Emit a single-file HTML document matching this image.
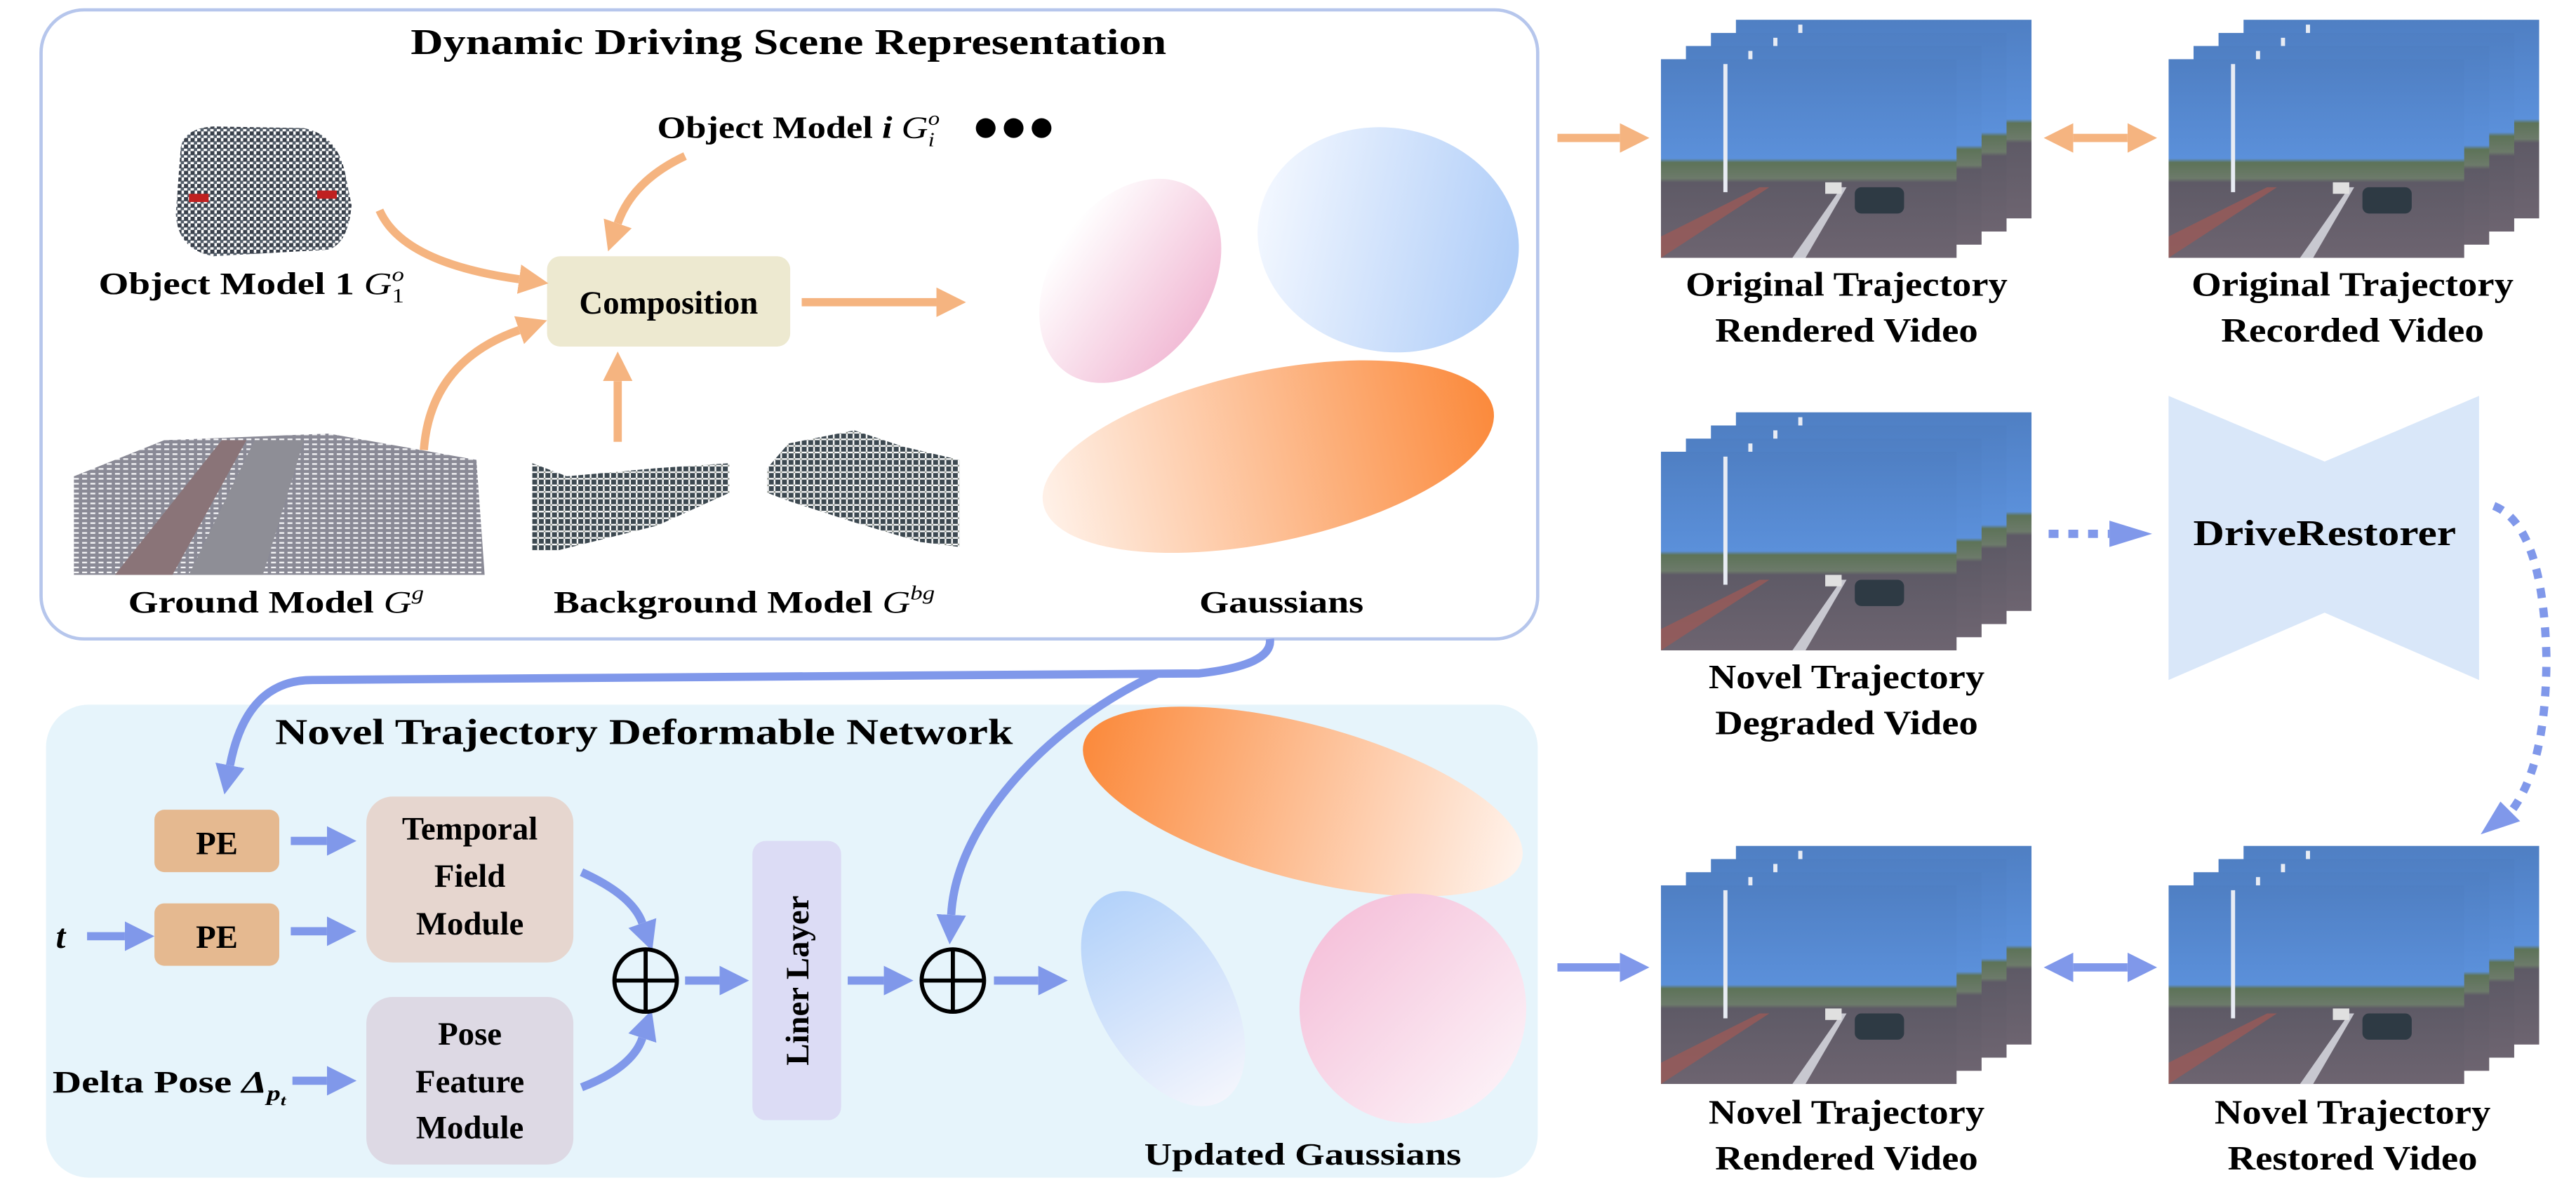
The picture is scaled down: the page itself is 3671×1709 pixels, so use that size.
<!DOCTYPE html>
<html><head><meta charset="utf-8"><style>
html,body{margin:0;padding:0;background:#fff;}
svg{display:block;}
text{font-family:"Liberation Serif",serif;font-weight:bold;fill:#000;}
</style></head><body>
<svg width="3671" height="1709" viewBox="0 0 1568 730" preserveAspectRatio="none" xmlns="http://www.w3.org/2000/svg">
<defs>
<marker id="ho" markerUnits="userSpaceOnUse" markerWidth="18" markerHeight="18" viewBox="0 0 16 16" refX="0" refY="8" orient="auto-start-reverse"><path d="M0,0 L16,8 L0,16 z" fill="#f5b480"/></marker>
<marker id="hb" markerUnits="userSpaceOnUse" markerWidth="18" markerHeight="18" viewBox="0 0 16 16" refX="0" refY="8" orient="auto-start-reverse"><path d="M0,0 L16,8 L0,16 z" fill="#8098ea"/></marker>
<linearGradient id="gPink" x1="0" y1="0" x2="1" y2="0"><stop offset="0" stop-color="#fff"/><stop offset="1" stop-color="#f2bcd6"/></linearGradient>
<linearGradient id="gBlue" x1="0" y1="0" x2="1" y2="0"><stop offset="0" stop-color="#f2f7ff"/><stop offset="1" stop-color="#afcdf8"/></linearGradient>
<linearGradient id="gOr" x1="0" y1="0" x2="1" y2="0"><stop offset="0" stop-color="#fff1e8"/><stop offset="1" stop-color="#fb8a3c"/></linearGradient>
<linearGradient id="gOr2" x1="0" y1="0" x2="1" y2="0"><stop offset="0" stop-color="#fb8a3c"/><stop offset="1" stop-color="#fff3ec"/></linearGradient>
<linearGradient id="gBlue2" x1="0" y1="0" x2="0" y2="1"><stop offset="0" stop-color="#b3d2fa"/><stop offset="1" stop-color="#f3f5fc"/></linearGradient>
<linearGradient id="gPink2" x1="0" y1="0" x2="1" y2="1"><stop offset="0" stop-color="#f4bad6"/><stop offset="1" stop-color="#fdf8fb"/></linearGradient>
<linearGradient id="sky" x1="0" y1="0" x2="0" y2="1"><stop offset="0" stop-color="#4f7fc3"/><stop offset="0.5" stop-color="#5b90da"/><stop offset="0.52" stop-color="#5d7358"/><stop offset="0.6" stop-color="#6c7a6a"/><stop offset="0.62" stop-color="#5e5a66"/><stop offset="1" stop-color="#6d6470"/></linearGradient>
<symbol id="photo" viewBox="0 0 180 121">
<rect width="180" height="121" fill="url(#sky)"/>
<path d="M0,108 L60,78 L66,78 L0,121 z" fill="#9a5a58" opacity="0.8"/>
<path d="M80,121 L110,78 L113,78 L88,121 z" fill="#c8c8d0"/>
<rect x="38" y="3" width="2.5" height="78" fill="#e8ecf4"/>
<rect x="118" y="78" width="30" height="16" rx="4" fill="#2e3a44"/>
<rect x="100" y="75" width="10" height="7" fill="#e0e0e0"/>
</symbol>
<pattern id="dots" width="4" height="4" patternUnits="userSpaceOnUse"><rect width="2.5" height="2.5" fill="#2e3540"/><rect x="2" y="2" width="2" height="2" fill="#4a5562"/></pattern>
<pattern id="gdots" width="5" height="3" patternUnits="userSpaceOnUse"><rect width="5" height="3" fill="#8a8a96"/><rect width="3" height="1" fill="#f4f4f6"/></pattern>
<pattern id="bdots" width="4" height="4" patternUnits="userSpaceOnUse"><rect width="3" height="3" fill="#3c4850"/><rect x="3" y="3" width="1" height="1" fill="#8a9088"/></pattern>
</defs>

<!-- Top box -->
<rect x="25" y="6" width="911" height="383" rx="26" fill="#fff" stroke="#b6c6ec" stroke-width="2"/>
<text x="480" y="33" font-size="22" text-anchor="middle" textLength="460" lengthAdjust="spacingAndGlyphs">Dynamic Driving Scene Representation</text>
<text x="400" y="84" font-size="19" textLength="172" lengthAdjust="spacingAndGlyphs">Object Model <tspan font-style="italic">i</tspan> <tspan font-style="italic" font-weight="normal">G</tspan><tspan font-size="12" dy="-8" font-weight="normal" font-style="italic">o</tspan><tspan font-size="12" dx="-6" dy="13" font-weight="normal" font-style="italic">i</tspan></text>
<circle cx="600" cy="78" r="6"/><circle cx="617" cy="78" r="6"/><circle cx="634" cy="78" r="6"/>

<!-- car point cloud -->
<path d="M110,90 Q112,78 130,77 L185,78 Q205,82 210,105 L214,125 Q212,148 200,152 L130,156 Q108,152 107,130 z" fill="url(#dots)" opacity="0.95"/>
<rect x="115" y="118" width="12" height="5" fill="#c02020"/><rect x="193" y="116" width="12" height="5" fill="#c02020"/>
<text x="60" y="179" font-size="19" textLength="186" lengthAdjust="spacingAndGlyphs">Object Model 1 <tspan font-style="italic" font-weight="normal">G</tspan><tspan font-size="12" dy="-8" font-weight="normal" font-style="italic">o</tspan><tspan font-size="12" dx="-6" dy="13" font-weight="normal">1</tspan></text>

<!-- composition -->
<rect x="333" y="156" width="148" height="55" rx="8" fill="#ede9d0"/>
<text x="407" y="191" font-size="20" text-anchor="middle">Composition</text>

<!-- orange arrows -->
<g fill="none" stroke="#f5b480" stroke-width="5">
<path d="M231,128 Q245,160 316,170" marker-end="url(#ho)"/>
<path d="M417,95 Q385,110 376,136" marker-end="url(#ho)"/>
<path d="M258,274 Q262,220 316,201" marker-end="url(#ho)"/>
<path d="M376,269 L376,232" marker-end="url(#ho)"/>
<path d="M488,184 L570,184" marker-end="url(#ho)"/>
<path d="M948,84 L986,84" marker-end="url(#ho)"/>
<path d="M1262,84 L1295,84" marker-start="url(#ho)" marker-end="url(#ho)"/>
</g>

<!-- ground / background clouds -->
<path d="M45,290 L100,268 L200,264 L290,280 L295,350 L45,350 z" fill="url(#gdots)"/>
<path d="M70,350 L135,268 L150,268 L105,350 z" fill="#8a7478"/>
<path d="M115,350 L155,268 L185,268 L160,350 z" fill="#8e8e96"/>
<path d="M324,282 L345,290 L400,285 L444,282 L444,300 L400,320 L340,335 L324,335 z" fill="url(#bdots)"/>
<path d="M467,285 L480,270 L520,262 L550,272 L584,280 L584,333 L560,330 L520,318 L480,305 L467,300 z" fill="url(#bdots)"/>
<text x="78" y="373" font-size="19" textLength="180" lengthAdjust="spacingAndGlyphs">Ground Model <tspan font-style="italic" font-weight="normal">G</tspan><tspan font-size="12" dy="-8" font-style="italic" font-weight="normal">g</tspan></text>
<text x="337" y="373" font-size="19" textLength="232" lengthAdjust="spacingAndGlyphs">Background Model <tspan font-style="italic" font-weight="normal">G</tspan><tspan font-size="12" dy="-8" font-style="italic" font-weight="normal">bg</tspan></text>
<text x="780" y="373" font-size="19" text-anchor="middle" textLength="100" lengthAdjust="spacingAndGlyphs">Gaussians</text>

<!-- gaussians -->
<ellipse cx="688" cy="171" rx="48" ry="68" transform="rotate(35 688 171)" fill="url(#gPink)"/>
<ellipse cx="845" cy="146" rx="80" ry="68" transform="rotate(12 845 146)" fill="url(#gBlue)" />
<ellipse cx="772" cy="278" rx="140" ry="52" transform="rotate(-12 772 278)" fill="url(#gOr)"/>

<!-- Bottom box -->
<rect x="28" y="429" width="908" height="288" rx="26" fill="#e6f4fb"/>
<text x="392" y="453" font-size="22" text-anchor="middle" textLength="449" lengthAdjust="spacingAndGlyphs">Novel Trajectory Deformable Network</text>

<!-- blue connectors -->
<g fill="none" stroke="#8098ea" stroke-width="5">
<path d="M773,389 Q775,405 730,410 L190,414 Q150,414 140,466" marker-end="url(#hb)"/>
<path d="M705,410 C640,440 582,500 579,557" marker-end="url(#hb)"/>
<path d="M177,512 L199,512" marker-end="url(#hb)"/>
<path d="M177,567 L199,567" marker-end="url(#hb)"/>
<path d="M53,570 L76,570" marker-end="url(#hb)"/>
<path d="M178,658 L199,658" marker-end="url(#hb)"/>
<path d="M354,531 Q385,545 391,562" marker-end="url(#hb)"/>
<path d="M354,662 Q385,650 391,632" marker-end="url(#hb)"/>
<path d="M417,597 L438,597" marker-end="url(#hb)"/>
<path d="M516,597 L538,597" marker-end="url(#hb)"/>
<path d="M605,597 L632,597" marker-end="url(#hb)"/>
<path d="M948,589 L986,589" marker-end="url(#hb)"/>
<path d="M1262,589 L1295,589" marker-start="url(#hb)" marker-end="url(#hb)"/>
</g>
<g fill="none" stroke="#8098ea" stroke-width="5" stroke-dasharray="6 6">
<path d="M1247,325 L1284,325"/>
<path d="M1518,308 Q1548,320 1550,400 Q1550,470 1526,497"/>
</g>
<path d="M1284,317 L1310,325 L1284,333 z" fill="#8098ea"/>
<path d="M1522,488 L1534,500 L1510,508 z" fill="#8098ea"/>

<!-- PE boxes -->
<rect x="94" y="493" width="76" height="38" rx="6" fill="#e5b990"/>
<rect x="94" y="550" width="76" height="38" rx="6" fill="#e5b990"/>
<text x="132" y="520" font-size="20" text-anchor="middle">PE</text>
<text x="132" y="577" font-size="20" text-anchor="middle">PE</text>
<text x="34" y="577" font-size="21" font-style="italic">t</text>
<text x="32" y="665" font-size="19" textLength="142" lengthAdjust="spacingAndGlyphs">Delta Pose <tspan font-style="italic">Δ</tspan><tspan font-size="13" dy="5" font-style="italic">p</tspan><tspan font-size="9" dy="3" font-style="italic">t</tspan></text>

<rect x="223" y="485" width="126" height="101" rx="16" fill="#e6d6cf"/>
<text x="286" y="511" font-size="20" text-anchor="middle">Temporal</text>
<text x="286" y="540" font-size="20" text-anchor="middle">Field</text>
<text x="286" y="569" font-size="20" text-anchor="middle">Module</text>
<rect x="223" y="607" width="126" height="102" rx="16" fill="#ddd9e4"/>
<text x="286" y="636" font-size="20" text-anchor="middle">Pose</text>
<text x="286" y="665" font-size="20" text-anchor="middle">Feature</text>
<text x="286" y="693" font-size="20" text-anchor="middle">Module</text>

<rect x="458" y="512" width="54" height="170" rx="8" fill="#dcdcf5"/>
<text x="0" y="0" font-size="20" text-anchor="middle" transform="translate(492 597) rotate(-90)">Liner Layer</text>

<g fill="none" stroke="#000" stroke-width="2.5">
<circle cx="393" cy="597" r="19"/><path d="M374,597 H412 M393,578 V616"/>
<circle cx="580" cy="597" r="19"/><path d="M561,597 H599 M580,578 V616"/>
</g>

<!-- updated gaussians -->
<ellipse cx="793" cy="488" rx="138" ry="47" transform="rotate(15 793 488)" fill="url(#gOr2)"/>
<ellipse cx="708" cy="608" rx="40" ry="72" transform="rotate(-30 708 608)" fill="url(#gBlue2)"/>
<ellipse cx="860" cy="614" rx="69" ry="70" fill="url(#gPink2)"/>
<text x="793" y="709" font-size="19" text-anchor="middle" textLength="193" lengthAdjust="spacingAndGlyphs">Updated Gaussians</text>

<!-- image stacks -->
<g>
<use href="#photo" x="1056.6" y="12" width="180" height="121"/>
<use href="#photo" x="1041.4" y="20" width="180" height="121"/>
<use href="#photo" x="1026.2" y="28" width="180" height="121"/>
<use href="#photo" x="1011" y="36" width="180" height="121"/>

<use href="#photo" x="1365.6" y="12" width="180" height="121"/>
<use href="#photo" x="1350.4" y="20" width="180" height="121"/>
<use href="#photo" x="1335.2" y="28" width="180" height="121"/>
<use href="#photo" x="1320" y="36" width="180" height="121"/>

<use href="#photo" x="1056.6" y="251" width="180" height="121"/>
<use href="#photo" x="1041.4" y="259" width="180" height="121"/>
<use href="#photo" x="1026.2" y="267" width="180" height="121"/>
<use href="#photo" x="1011" y="275" width="180" height="121"/>

<use href="#photo" x="1056.6" y="515" width="180" height="121"/>
<use href="#photo" x="1041.4" y="523" width="180" height="121"/>
<use href="#photo" x="1026.2" y="531" width="180" height="121"/>
<use href="#photo" x="1011" y="539" width="180" height="121"/>

<use href="#photo" x="1365.6" y="515" width="180" height="121"/>
<use href="#photo" x="1350.4" y="523" width="180" height="121"/>
<use href="#photo" x="1335.2" y="531" width="180" height="121"/>
<use href="#photo" x="1320" y="539" width="180" height="121"/>
</g>

<!-- DriveRestorer -->
<path d="M1320,241 L1415,281 L1509,241 L1509,414 L1415,373 L1320,414 z" fill="#d9e7f9"/>
<text x="1415" y="332" font-size="22" text-anchor="middle" textLength="160" lengthAdjust="spacingAndGlyphs">DriveRestorer</text>

<!-- right labels -->
<g font-size="21" text-anchor="middle">
<text x="1124" y="180" textLength="196" lengthAdjust="spacingAndGlyphs">Original Trajectory</text>
<text x="1124" y="208" textLength="160" lengthAdjust="spacingAndGlyphs">Rendered Video</text>
<text x="1432" y="180" textLength="196" lengthAdjust="spacingAndGlyphs">Original Trajectory</text>
<text x="1432" y="208" textLength="160" lengthAdjust="spacingAndGlyphs">Recorded Video</text>
<text x="1124" y="419" textLength="168" lengthAdjust="spacingAndGlyphs">Novel Trajectory</text>
<text x="1124" y="447" textLength="160" lengthAdjust="spacingAndGlyphs">Degraded Video</text>
<text x="1124" y="684" textLength="168" lengthAdjust="spacingAndGlyphs">Novel Trajectory</text>
<text x="1124" y="712" textLength="160" lengthAdjust="spacingAndGlyphs">Rendered Video</text>
<text x="1432" y="684" textLength="168" lengthAdjust="spacingAndGlyphs">Novel Trajectory</text>
<text x="1432" y="712" textLength="152" lengthAdjust="spacingAndGlyphs">Restored Video</text>
</g>
</svg>
</body></html>
